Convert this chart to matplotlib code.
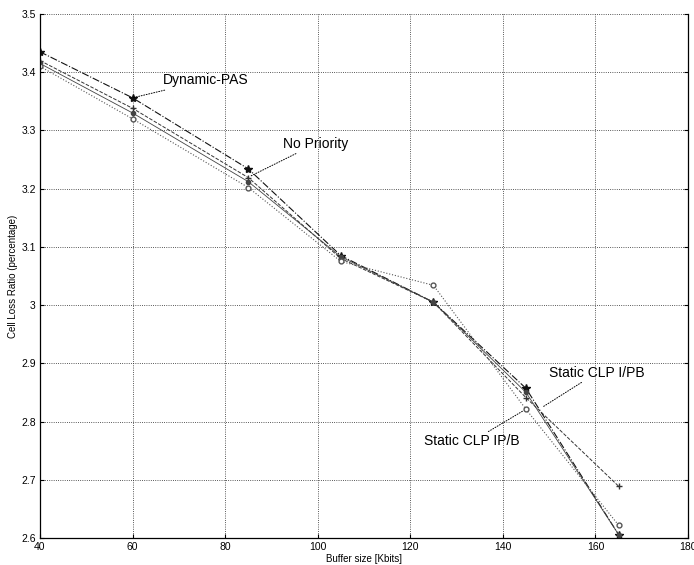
import matplotlib
matplotlib.use('Agg')
import matplotlib.pyplot as plt
from matplotlib.ticker import FuncFormatter

plt.rcParams['font.family'] = ['Liberation Sans', 'DejaVu Sans']

# buffer sizes [Kbits]
buffer_size = [40, 60, 85, 105, 125, 145, 165]

# cell loss ratio (percentage)
dynamic_pas = [3.435, 3.356, 3.234, 3.085, 3.005, 2.857, 2.606]
no_priority = [3.420, 3.338, 3.219, 3.080, 3.005, 2.841, 2.689]
static_i_pb = [3.415, 3.330, 3.212, 3.083, 3.005, 2.850, 2.606]
static_ip_b = [3.410, 3.320, 3.202, 3.075, 3.034, 2.821, 2.622]

x_ticks = [40, 60, 80, 100, 120, 140, 160, 180]
y_ticks = [2.6, 2.7, 2.8, 2.9, 3.0, 3.1, 3.2, 3.3, 3.4, 3.5]

fig = plt.figure(figsize=(6.94, 5.65), dpi=100)
ax = fig.add_axes([40 / 694, 1 - 538 / 565, 648 / 694, 524 / 565])

ax.plot(buffer_size, dynamic_pas, linestyle='-.', color='#111111', lw=0.8,
        marker='*', ms=6)
ax.plot(buffer_size, no_priority, linestyle='--', color='#333333', lw=0.7,
        marker='+', ms=5)
ax.plot(buffer_size, static_i_pb, linestyle='-', color='#444444', lw=0.6,
        marker='.', ms=6)
ax.plot(buffer_size, static_ip_b, linestyle=':', color='#555555', lw=0.8,
        marker='o', ms=3.5, mfc='white')

ax.set_xlim(40, 180)
ax.set_ylim(2.6, 3.5)
ax.set_xticks(x_ticks)
ax.set_yticks(y_ticks)
ax.yaxis.set_major_formatter(FuncFormatter(lambda v, p: '%g' % v))
ax.grid(True, linestyle=':', color='#222222', lw=0.6)
ax.tick_params(direction='in', labelsize=7.5, length=3, right=True,
               top=False, pad=3)
ax.spines['top'].set_visible(False)
for s in ['left', 'right', 'bottom']:
    ax.spines[s].set_linewidth(0.9)

ax.set_xlabel('Buffer size [Kbits]', fontsize=7, labelpad=1)
ax.set_ylabel('Cell Loss Ratio (percentage)', fontsize=7, labelpad=2)

arrow = dict(arrowstyle='-', linestyle=':', color='black', lw=0.7,
             shrinkA=0, shrinkB=0)
ax.annotate('Dynamic-PAS', xy=(60, 3.356), xytext=(66.5, 3.386),
            fontsize=10, va='center', arrowprops=arrow)
ax.annotate('No Priority', xy=(85.6, 3.222), xytext=(92.5, 3.277),
            fontsize=10, va='center', arrowprops=arrow)
ax.annotate('Static CLP I/PB', xy=(148.8, 2.826), xytext=(150.0, 2.884),
            fontsize=10, va='center', arrowprops=arrow)
ax.annotate('Static CLP IP/B', xy=(144.5, 2.819), xytext=(123.0, 2.766),
            fontsize=10, va='center', arrowprops=arrow)

plt.savefig('out.png', dpi=100)
